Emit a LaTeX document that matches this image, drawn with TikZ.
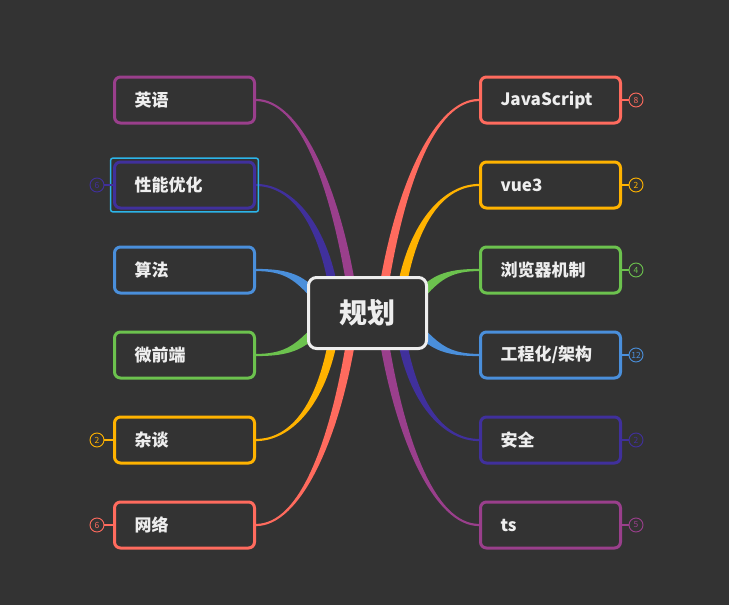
\documentclass[tikz,border=0pt]{standalone}
\usepackage{fontspec}
\setmainfont{Noto Sans CJK SC}
\usetikzlibrary{calc}
\definecolor{bg}{HTML}{333333}
\definecolor{txt}{HTML}{EEEEEE}
\definecolor{cPurple}{HTML}{9A3F8C}
\definecolor{cIndigo}{HTML}{40309C}
\definecolor{cBlue}{HTML}{4A8FDB}
\definecolor{cGreen}{HTML}{6CC24E}
\definecolor{cYellow}{HTML}{FFB300}
\definecolor{cRed}{HTML}{FF6B5E}
\definecolor{cSel}{HTML}{2CB5E9}
\newcommand\wz{1.1}
% #1 colour, #2 start anchor, #3 control 1, #4 control 2, #5 end coordinate, #6,#7 half-width offset at end
\newcommand\branch[7]{%
  \fill[#1] ($(#2)+(0,-\wz)$) .. controls ($(#3)+(0,-\wz)$) and ($(#4)+(#6,#7)$) .. ($(#5)+(#6,#7)$)
    -- ($(#5)-(#6,#7)$) .. controls ($(#4)-(#6,#7)$) and ($(#3)+(0,\wz)$) .. ($(#2)+(0,\wz)$) -- cycle;}
\begin{document}
\begin{tikzpicture}[x=1pt,y=-1pt,
  leaf/.style={draw=#1, line width=3pt, rounded corners=6pt, fill=bg,
    minimum width=140pt, minimum height=46pt, text width=100pt, inner xsep=20pt,
    align=left, text=txt, font=\fontsize{17}{20}\selectfont\bfseries},
  root/.style={draw=txt, line width=3pt, rounded corners=8pt, fill=bg,
    minimum width=118pt, minimum height=71pt, text=txt,
    font=\fontsize{28}{32}\selectfont\bfseries},
  badge/.style={draw=#1, circle, line width=0.9pt, minimum size=14pt, inner sep=0pt,
    fill=bg, text=#1, font=\fontsize{8.5}{9}\selectfont},
  link/.style={draw=#1, line width=2pt}]
\fill[bg] (0,0) rectangle (729,605);
\useasboundingbox (0,0) rectangle (729,605);

% end points of branches (under the root)
\coordinate (eEn) at (352,292);
\coordinate (ePf) at (334,292);
\coordinate (eAlg) at (312,292);
\coordinate (eMf) at (312,334);
\coordinate (eZa) at (334,334);
\coordinate (eNet) at (352,334);
\coordinate (eJs) at (383,292);
\coordinate (eVue) at (401,292);
\coordinate (eBr) at (423,292);
\coordinate (eEng) at (423,334);
\coordinate (eSec) at (401,334);
\coordinate (eTs) at (383,334);

% leaves
\node[leaf=cPurple] (en)  at (184.5,100) {英语};
\node[leaf=cIndigo] (pf)  at (184.5,185) {性能优化};
\node[leaf=cBlue]   (alg) at (184.5,270) {算法};
\node[leaf=cGreen]  (mf)  at (184.5,355) {微前端};
\node[leaf=cYellow] (za)  at (184.5,440) {杂谈};
\node[leaf=cRed]    (net) at (184.5,525) {网络};
\node[leaf=cRed]    (js)  at (550.5,100) {JavaScript};
\node[leaf=cYellow] (vue) at (550.5,185) {vue3};
\node[leaf=cGreen]  (br)  at (550.5,270) {浏览器机制};
\node[leaf=cBlue]   (eng) at (550.5,355) {工程化/架构};
\node[leaf=cIndigo] (sec) at (550.5,440) {安全};
\node[leaf=cPurple] (ts)  at (550.5,525) {ts};

% branches
\branch{cPurple}{en.east}{300,100}{335,185}{eEn}{4.5}{0}
\branch{cIndigo}{pf.east}{290,185}{322,220}{ePf}{4.5}{0}
\branch{cBlue}{alg.east}{283,270}{297,276}{eAlg}{3.2}{-3.2}
\branch{cGreen}{mf.east}{283,355}{297,349}{eMf}{-3.2}{-3.2}
\branch{cYellow}{za.east}{290,440}{322,406}{eZa}{-4.5}{0}
\branch{cRed}{net.east}{300,525}{335,441}{eNet}{-4.5}{0}
\branch{cRed}{js.west}{435,100}{400,185}{eJs}{-4.5}{0}
\branch{cYellow}{vue.west}{445,185}{413,220}{eVue}{-4.5}{0}
\branch{cGreen}{br.west}{452,270}{438,276}{eBr}{-3.2}{-3.2}
\branch{cBlue}{eng.west}{452,355}{438,349}{eEng}{3.2}{-3.2}
\branch{cIndigo}{sec.west}{445,440}{413,406}{eSec}{4.5}{0}
\branch{cPurple}{ts.west}{435,525}{400,441}{eTs}{4.5}{0}

% root
\node[root] (c) at (367.5,313) {规划};

% selection frame
\draw[cSel, line width=1.5pt, rounded corners=2pt] ($(pf.north west)+(-2.3,-2.3)$) rectangle ($(pf.south east)+(2.3,2.3)$);

% badges
\node[badge=cIndigo] (bpf)  at (97,185) {6};
\node[badge=cYellow] (bza)  at (97,440) {2};
\node[badge=cRed]    (bnet) at (97,525) {6};
\node[badge=cRed]    (bjs)  at (636,100) {8};
\node[badge=cYellow] (bvue) at (636,185) {2};
\node[badge=cGreen]  (bbr)  at (636,270) {4};
\node[badge=cBlue]   (beng) at (636,355) {12};
\node[badge=cIndigo] (bsec) at (636,440) {2};
\node[badge=cPurple] (bts)  at (636,525) {5};
\draw[link=cIndigo] (bpf.east) -- (pf.west);
\draw[link=cYellow] (bza.east) -- (za.west);
\draw[link=cRed] (bnet.east) -- (net.west);
\draw[link=cRed] (js.east) -- (bjs.west);
\draw[link=cYellow] (vue.east) -- (bvue.west);
\draw[link=cGreen] (br.east) -- (bbr.west);
\draw[link=cBlue] (eng.east) -- (beng.west);
\draw[link=cIndigo] (sec.east) -- (bsec.west);
\draw[link=cPurple] (ts.east) -- (bts.west);
\end{tikzpicture}
\end{document}
